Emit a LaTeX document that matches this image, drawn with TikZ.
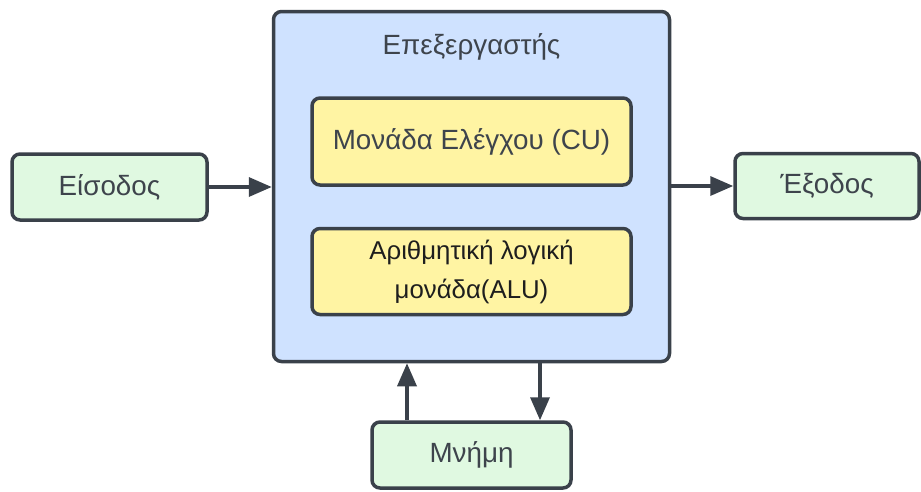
\documentclass[tikz,border=0pt]{standalone}
\usepackage{fontspec}
\setmainfont{Liberation Sans}
\usetikzlibrary{arrows.meta}
\definecolor{edge}{RGB}{58,65,74}
\definecolor{cpufill}{RGB}{207,226,255}
\definecolor{unitfill}{RGB}{255,244,163}
\definecolor{iofill}{RGB}{224,249,225}
\definecolor{txtgray}{RGB}{62,68,76}
\definecolor{txtdark}{RGB}{30,30,30}
\begin{document}
\begin{tikzpicture}[x=1pt,y=-1pt,
  box/.style={draw=edge, line width=3.5pt, rounded corners=8pt, inner sep=0pt},
  lbl/.style={font=\fontsize{27.8}{32}\selectfont, text=txtgray},
  arr/.style={draw=edge, line width=3.5pt, -{Triangle[length=23pt,width=19pt]}}]
\useasboundingbox (0,0) rectangle (921,491);

% processor frame and its title
\node[box, fill=cpufill, minimum width=396pt, minimum height=350pt] (cpu) at (471.5,186.5) {};
\node[lbl, anchor=base] (title) at (471.5,54) {Επεξεργαστής};

% inner units
\node[box, fill=unitfill, minimum width=319pt, minimum height=87pt, lbl] (cu) at (471.5,141.5) {Μονάδα Ελέγχου (CU)};
\node[box, fill=unitfill, minimum width=319pt, minimum height=86pt, align=center,
      font=\fontsize{25.8}{39}\selectfont, text=txtdark] (alu) at (471.5,271.5) {Αριθμητική λογική\\μονάδα(ALU)};

% input, output, memory
\node[box, fill=iofill, minimum width=195pt, minimum height=66pt, lbl] (inp) at (109.5,187) {Είσοδος};
\node[box, fill=iofill, minimum width=184pt, minimum height=65pt, lbl] (outp) at (827,186) {Έξοδος};
\node[box, fill=iofill, minimum width=199pt, minimum height=66pt, lbl] (mem) at (471.5,455) {Μνήμη};

% connectors
\coordinate (upx) at (407,0);
\coordinate (downx) at (540,0);
\draw[arr] (inp.east) -- (inp.east -| cpu.west);
\draw[arr] (outp.west -| cpu.east) -- (outp.west);
\draw[arr] (upx |- mem.north) -- (upx |- cpu.south);
\draw[arr] (downx |- cpu.south) -- (downx |- mem.north);
\end{tikzpicture}
\end{document}
